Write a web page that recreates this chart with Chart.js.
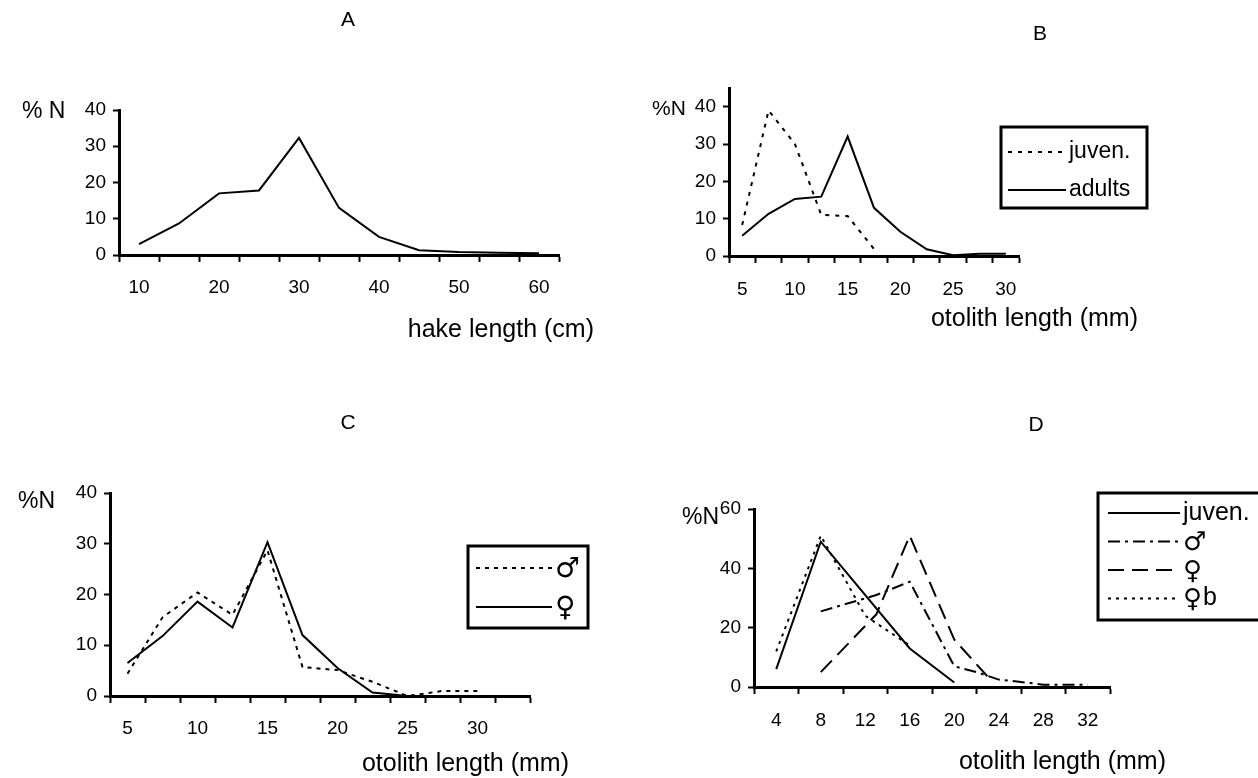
<!DOCTYPE html>
<html>
<head>
<meta charset="utf-8">
<script src="https://cdn.jsdelivr.net/npm/chart.js@4.4.0/dist/chart.umd.min.js"></script>
<style>
    body { margin: 0; background: #fff; }
    #page { position: relative; width: 1258px; height: 778px; overflow: hidden; font-family: "Liberation Sans", Arial, sans-serif; color: #000; }
    canvas { position: absolute; left: 0; top: 0; }
    .txt { position: absolute; white-space: nowrap; line-height: 1; }
    .title { font-size: 21px; transform: translate(-50%, -50%); }
    .ylab { font-size: 23px; transform: translateY(-50%); }
    .xlab { font-size: 25px; transform: translateY(-50%); }
</style>
</head>
<body>
<div id="page">
    <canvas id="chartA" width="629" height="389"></canvas>
    <canvas id="chartB" width="629" height="389" style="left:629px"></canvas>
    <canvas id="chartC" width="629" height="389" style="top:389px"></canvas>
    <canvas id="chartD" width="629" height="389" style="left:629px; top:389px"></canvas>

    <div class="txt title" style="left:348px; top:18px">A</div>
    <div class="txt title" style="left:1040px; top:32px">B</div>
    <div class="txt title" style="left:348px; top:421px">C</div>
    <div class="txt title" style="left:1036px; top:423px">D</div>

    <div class="txt ylab" style="left:22px; top:110px">% N</div>
    <div class="txt ylab" style="left:652px; top:107px; font-size:21px">%N</div>
    <div class="txt ylab" style="left:18px; top:500px">%N</div>
    <div class="txt ylab" style="left:682px; top:516px">%N</div>

    <div class="txt xlab" style="right:664px; top:328px">hake length (cm)</div>
    <div class="txt xlab" style="right:120px; top:317px">otolith length (mm)</div>
    <div class="txt xlab" style="right:689px; top:762px">otolith length (mm)</div>
    <div class="txt xlab" style="right:92px; top:760px">otolith length (mm)</div>
</div>

<script>
// Données
// A : longueur du merlu (cm)
const hakeLengths = ['10', '15', '20', '25', '30', '35', '40', '45', '50', '55', '60'];
const hakeAll = [3, 8.7, 17, 17.8, 32.3, 13, 5, 1.3, 0.8, 0.6, 0.5];

// B : longueur de l'otolithe (mm), juvéniles / adultes
const otoLengthsB = ['5', '7.5', '10', '12.5', '15', '17.5', '20', '22.5', '25', '27.5', '30'];
const juvenB = [8.3, 39, 30, 11, 10.7, 1.9, null, null, null, null, null];
const adultsB = [5.4, 11.3, 15.3, 15.9, 32, 12.9, 6.5, 1.8, 0.2, 0.6, 0.6];

// C : mâles / femelles
const otoLengthsC = ['5', '7.5', '10', '12.5', '15', '17.5', '20', '22.5', '25', '27.5', '30', '32.5'];
const maleC = [4.4, 15.5, 20.4, 16, 28.7, 5.7, 5.1, 2.8, 0, 1, 1, null];
const femaleC = [6.5, 11.8, 18.6, 13.5, 30.3, 12, 5.5, 0.7, 0, 0, 0, null];

// D : axe x numérique (mm)
const dTicks = [4, 8, 12, 16, 20, 24, 28, 32];
const juvenDx = [4, 8, 16, 20];
const juvenDy = [6, 49, 13, 1.5];
const maleDx = [8, 13, 16, 20, 22, 24, 26, 28, 30, 32];
const maleDy = [25.5, 31, 35.5, 7, 5, 2.5, 1.7, 0.8, 0.8, 0.8];
const femaleDx = [8, 13, 16, 20, 23];
const femaleDy = [5, 24.5, 51, 16, 3.5];
const femaleBDx = [4, 8, 12, 16];
const femaleBDy = [12, 51, 24, 14];

const FONT = "'Liberation Sans', Arial, sans-serif";
const SYMBOL_FONT = "'DejaVu Sans', sans-serif";
const TICK_FONT = { family: FONT, size: 19 };

Chart.defaults.animation = false;
Chart.defaults.responsive = false;
Chart.defaults.devicePixelRatio = 1;
Chart.defaults.color = '#000';

function toPoints(xs, ys) {
    return xs.map((x, i) => ({ x: x, y: ys[i] }));
}

function lineDataset(label, data, dash) {
    return {
        label: label,
        data: data,
        borderColor: '#000',
        backgroundColor: '#000',
        borderWidth: 2,
        borderDash: dash,
        pointRadius: 0,
        tension: 0,
        fill: false
    };
}

// Légende encadrée dessinée dans le canvas
const boxedLegend = {
    id: 'boxedLegend',
    afterDraw(chart, args, opts) {
        if (!opts.box) return;
        const ctx = chart.ctx;
        const b = opts.box;
        ctx.save();
        ctx.lineWidth = 3;
        ctx.strokeStyle = '#000';
        ctx.strokeRect(b.x, b.y, b.w, b.h);
        chart.data.datasets.forEach((ds, i) => {
            const y = b.y + opts.first + i * opts.step;
            ctx.setLineDash(ds.borderDash || []);
            ctx.lineWidth = 2;
            ctx.beginPath();
            ctx.moveTo(b.x + opts.pad, y);
            ctx.lineTo(b.x + opts.pad + opts.lineW, y);
            ctx.stroke();
            ctx.setLineDash([]);
            ctx.fillStyle = '#000';
            ctx.textBaseline = 'middle';
            let x = b.x + opts.pad + opts.lineW + 3;
            // symboles ♂ / ♀ dans une police qui les possède
            const sym = ds.label.charAt(0);
            if (sym === '♂' || sym === '♀') {
                ctx.font = opts.symSize + 'px ' + SYMBOL_FONT;
                ctx.fillText(sym, x, y + 2);
                x += ctx.measureText(sym).width + 1;
                ctx.font = opts.size + 'px ' + FONT;
                ctx.fillText(ds.label.slice(1), x, y);
            } else {
                ctx.font = opts.size + 'px ' + FONT;
                ctx.fillText(ds.label, x, y);
            }
        });
        ctx.restore();
    }
};

function baseOptions(area, yMax, yStep, legend) {
    return {
        layout: { padding: { left: 0, top: area.top, right: area.right, bottom: 0 } },
        plugins: {
            legend: { display: false },
            tooltip: { enabled: false },
            boxedLegend: legend || {}
        },
        scales: {
            y: {
                min: 0,
                max: yMax,
                afterBuildTicks: (scale) => {
                    const ticks = [];
                    for (let v = 0; v <= yMax; v += yStep) ticks.push({ value: v });
                    scale.ticks = ticks;
                },
                afterFit: (scale) => { scale.width = area.left; },
                ticks: { font: TICK_FONT, padding: 7 },
                grid: { drawOnChartArea: false, tickLength: 6, tickWidth: 2, tickColor: '#000' },
                border: { color: '#000', width: 3 }
            }
        }
    };
}

function categoryX(area) {
    return {
        type: 'category',
        offset: true,
        afterFit: (scale) => { scale.height = area.bottom; },
        grid: { offset: true, drawOnChartArea: false, tickLength: 7, tickWidth: 2, tickColor: '#000' },
        border: { color: '#000', width: 3 },
        ticks: {
            autoSkip: false,
            maxRotation: 0,
            font: TICK_FONT,
            padding: area.pad,
            callback: function(val, i) { return i % 2 === 0 ? this.getLabelForValue(val) : ''; }
        }
    };
}

document.addEventListener('DOMContentLoaded', function() {
    // A
    const optA = baseOptions({ left: 119, top: 110, right: 629 - 559, bottom: 389 - 255 }, 40, 10);
    optA.scales.x = categoryX({ bottom: 389 - 255, pad: 14 });
    new Chart(document.getElementById('chartA'), {
        type: 'line',
        data: { labels: hakeLengths, datasets: [lineDataset('all', hakeAll, [])] },
        options: optA,
        plugins: [boxedLegend]
    });

    // B : l'axe y monte un peu au-dessus de 40
    const optB = baseOptions({ left: 729 - 629, top: 88, right: 629 - (1019 - 629), bottom: 389 - 256 }, 45, 10, {
        box: { x: 1001 - 629, y: 127, w: 146, h: 81 }, first: 25, step: 38, pad: 7, lineW: 58, size: 23
    });
    optB.scales.y.afterBuildTicks = (scale) => {
        scale.ticks = [0, 10, 20, 30, 40].map(v => ({ value: v }));
    };
    optB.scales.x = categoryX({ bottom: 389 - 256, pad: 15 });
    new Chart(document.getElementById('chartB'), {
        type: 'line',
        data: {
            labels: otoLengthsB,
            datasets: [
                lineDataset('juven.', juvenB, [4, 6]),
                lineDataset('adults', adultsB, [])
            ]
        },
        options: optB,
        plugins: [boxedLegend]
    });

    // C
    const optC = baseOptions({ left: 110, top: 493 - 389, right: 629 - 530, bottom: 389 - (696 - 389) }, 40, 10, {
        box: { x: 468, y: 546 - 389, w: 120, h: 82 }, first: 22, step: 39, pad: 8, lineW: 76, size: 22, symSize: 28
    });
    optC.scales.x = categoryX({ bottom: 389 - (696 - 389), pad: 14 });
    new Chart(document.getElementById('chartC'), {
        type: 'line',
        data: {
            labels: otoLengthsC,
            datasets: [
                lineDataset('♂', maleC, [4, 5]),
                lineDataset('♀', femaleC, [])
            ]
        },
        options: optC,
        plugins: [boxedLegend]
    });

    // D
    const optD = baseOptions({ left: 754 - 629, top: 509 - 389, right: 629 - (1110 - 629), bottom: 389 - (687 - 389) }, 60, 20, {
        box: { x: 1098 - 629, y: 493 - 389, w: 180, h: 127 }, first: 20, step: 28.5, pad: 10, lineW: 72, size: 25, symSize: 26
    });
    optD.scales.x = {
        type: 'linear',
        min: 2,
        max: 34,
        afterBuildTicks: (scale) => {
            // graduations toutes les 2 mm : traits aux bornes, libellés au centre
            const ticks = [];
            for (let v = 2; v <= 34; v += 2) ticks.push({ value: v });
            scale.ticks = ticks;
        },
        afterFit: (scale) => { scale.height = 389 - (687 - 389); },
        grid: {
            drawOnChartArea: false,
            tickLength: 7,
            tickWidth: 2,
            tickColor: (ctx) => (ctx.tick && ctx.tick.value % 4 === 2 ? '#000' : 'rgba(0,0,0,0)')
        },
        border: { color: '#000', width: 3 },
        ticks: {
            autoSkip: false,
            maxRotation: 0,
            font: TICK_FONT,
            padding: 15,
            callback: (val) => (dTicks.includes(val) ? String(val) : '')
        }
    };
    new Chart(document.getElementById('chartD'), {
        type: 'line',
        data: {
            datasets: [
                lineDataset('juven.', toPoints(juvenDx, juvenDy), []),
                lineDataset('♂', toPoints(maleDx, maleDy), [12, 5, 3, 5]),
                lineDataset('♀', toPoints(femaleDx, femaleDy), [16, 8]),
                lineDataset('♀b', toPoints(femaleBDx, femaleBDy), [3, 5])
            ]
        },
        options: optD,
        plugins: [boxedLegend]
    });
});
</script>
</body>
</html>
